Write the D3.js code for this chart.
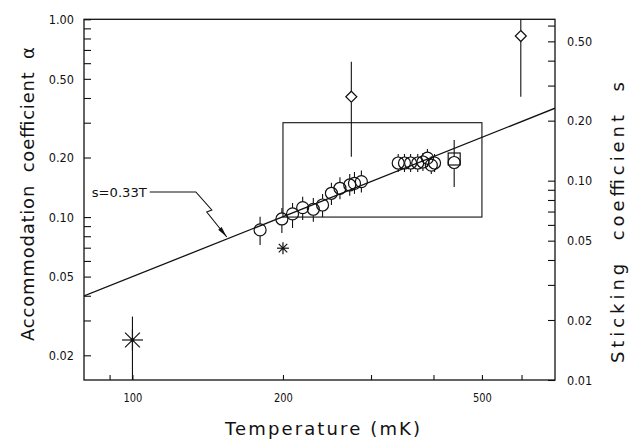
<!DOCTYPE html>
<html><head><meta charset="utf-8">
<script src="https://cdn.jsdelivr.net/npm/d3@7"></script>
<style>
body{margin:0;background:#fff}
svg{display:block}
text{font-family:"DejaVu Sans","Liberation Sans",sans-serif;fill:#111}
</style>
</head><body>
<svg id="chart" width="644" height="440"></svg>
<script>
// ---- data (Temperature in mK, accommodation coefficient alpha) ----
const circleT  = [180, 199, 209, 219, 230, 240, 250, 260, 272, 278, 287, 340, 350, 360, 372, 381, 389, 396, 402, 440];
const circleA  = [0.0861, 0.0978, 0.1037, 0.1116, 0.1095, 0.1151, 0.1319, 0.1398, 0.1453, 0.148, 0.151, 0.1877, 0.1877, 0.1877, 0.1877, 0.1899, 0.1987, 0.183, 0.1877, 0.1888];
const circleLo = [0.0723, 0.0831, 0.0881, 0.0967, 0.0948, 0.1001, 0.1151, 0.123, 0.128, 0.131, 0.133, 0.169, 0.169, 0.169, 0.169, 0.171, 0.179, 0.165, 0.169, 0.142];
const circleHi = [0.1005, 0.1111, 0.1178, 0.1268, 0.1249, 0.1309, 0.1493, 0.159, 0.165, 0.169, 0.172, 0.2085, 0.2085, 0.2085, 0.2085, 0.211, 0.221, 0.203, 0.2085, 0.2455];
const squareT  = [440];
const squareA  = [0.1966];
const diamondT  = [274, 598];
const diamondA  = [0.406, 0.823];
const diamondLo = [0.202, 0.406];
const diamondHi = [0.610, 1.0];
const starT  = [100, 200];
const starA  = [0.0239, 0.0696];
const starLo = [0.015, null];
const starHi = [0.0314, null];
const starBig = [true, false];
// fit line s = 0.33 T (T in K)
const fitCoef = 0.33;
const fitT = [80, 700];
// reference box
const boxT = [200, 500];
const boxA = [0.1, 0.3];
// annotation path (T, alpha)
const annoT = [108.3, 133.9, 144.1, 140.8, 154.4];
const annoA = [0.1339, 0.1339, 0.1086, 0.1061, 0.0793];
const annoLabel = "s=0.33T";
// ticks
const xTicks = [90, 100, 200, 300, 400, 500, 600];
const xLabels = [100, 200, 500];
const yLTicks = [0.02,0.03,0.04,0.05,0.06,0.07,0.08,0.09,0.1,0.2,0.3,0.4,0.5,0.6,0.7,0.8,0.9,1.0];
const yLLabels = [0.02, 0.05, 0.1, 0.2, 0.5, 1.0];
const yRTicks = [0.01,0.02,0.03,0.04,0.05,0.06,0.07,0.08,0.09,0.1,0.2,0.3,0.4,0.5,0.6];
const yRLabels = [0.01, 0.02, 0.05, 0.1, 0.2, 0.5];

// ---- layout ----
const L = 84, R = 555, T0 = 19.3, B = 380;
const svg = d3.select("#chart");
const x  = d3.scaleLog().domain([80, 700]).range([L, R]);
const yL = d3.scaleLog().domain([0.015, 1]).range([B, T0]);
const yR = d3.scaleLog().domain([0.01, 0.645]).range([B, T0]);
const ink = "#111";
const cell = 6.3;

// axes
const fmt2 = d => d3.format(".2f")(d);
const ax = svg.append("g").attr("transform", `translate(0,${B})`)
  .call(d3.axisBottom(x).tickValues(xTicks).tickSizeInner(-5).tickSizeOuter(0).tickPadding(13)
    .tickFormat(d => xLabels.includes(d) ? String(d) : ""));
const ayl = svg.append("g").attr("transform", `translate(${L},0)`)
  .call(d3.axisLeft(yL).tickValues(yLTicks).tickSizeInner(-7).tickSizeOuter(0).tickPadding(10)
    .tickFormat(d => yLLabels.some(v => Math.abs(v-d)<1e-9) ? fmt2(d) : ""));
const ayr = svg.append("g").attr("transform", `translate(${R},0)`)
  .call(d3.axisRight(yR).tickValues(yRTicks).tickSizeInner(-7).tickSizeOuter(0).tickPadding(12)
    .tickFormat(d => yRLabels.some(v => Math.abs(v-d)<1e-9) ? fmt2(d) : ""));
[ax, ayl, ayr].forEach(g => {
  g.select(".domain").remove();
  g.selectAll("line").attr("stroke", ink).attr("stroke-width", 1.1);
  g.selectAll("text").attr("font-size", 13).attr("fill", ink)
    .style("font-family", '"DejaVu Sans",sans-serif')
    .each(function() {
      const t = d3.select(this), s = t.text();
      if (s.length) t.attr("textLength", s.length * cell).attr("lengthAdjust", "spacingAndGlyphs");
    });
});

// frame
svg.append("rect").attr("x", L).attr("y", T0).attr("width", R-L).attr("height", B-T0)
  .attr("fill", "none").attr("stroke", ink).attr("stroke-width", 1.3);

// axis titles
svg.append("text").attr("x", 322.5).attr("y", 435).attr("text-anchor", "middle")
  .attr("font-size", 18).attr("textLength", 195)
  .text("Temperature (mK)");
svg.append("text").attr("transform", `translate(34,194) rotate(-90)`).attr("text-anchor", "middle")
  .attr("font-size", 18).attr("textLength", 294).attr("word-spacing", 6)
  .text("Accommodation coefficient α");
svg.append("text").attr("transform", `translate(624,222.5) rotate(-90)`).attr("text-anchor", "middle")
  .attr("font-size", 18).attr("textLength", 281).attr("word-spacing", 10)
  .text("Sticking coefficient s");

const plot = svg.append("g");
svg.append("clipPath").attr("id", "clip").append("rect")
  .attr("x", L).attr("y", T0).attr("width", R-L).attr("height", B-T0);

// box
plot.append("rect").attr("x", x(boxT[0])).attr("y", yL(boxA[1]))
  .attr("width", x(boxT[1]) - x(boxT[0])).attr("height", yL(boxA[0]) - yL(boxA[1]))
  .attr("fill", "none").attr("stroke", ink).attr("stroke-width", 1.1);

// fit line
plot.append("path").attr("clip-path", "url(#clip)")
  .attr("d", d3.line().x(d => x(d)).y(d => yR(fitCoef * d / 1000))(fitT))
  .attr("fill", "none").attr("stroke", ink).attr("stroke-width", 1.3);

// annotation
const annoPts = annoT.map((t, i) => [x(t), yL(annoA[i])]);
plot.append("path").attr("d", d3.line()(annoPts)).attr("fill", "none").attr("stroke", ink).attr("stroke-width", 1.1);
{
  const n = annoPts.length, p1 = annoPts[n-2], p2 = annoPts[n-1];
  const ang = Math.atan2(p2[1]-p1[1], p2[0]-p1[0]);
  const len = 11, w = 2.2;
  const bx = p2[0] - len*Math.cos(ang), by = p2[1] - len*Math.sin(ang);
  const nx = -Math.sin(ang)*w, ny = Math.cos(ang)*w;
  plot.append("path").attr("d", `M${p2[0]},${p2[1]}L${bx+nx},${by+ny}L${bx-nx},${by-ny}Z`).attr("fill", ink);
}
svg.append("text").attr("x", annoPts[0][0] - 3).attr("y", annoPts[0][1] + 5).attr("text-anchor", "end")
  .attr("font-size", 13).attr("textLength", 55).attr("lengthAdjust", "spacingAndGlyphs").text(annoLabel);

// error bar helper (skips marker interior)
function ebar(cx, yc, yHi, yLo, gap) {
  if (yHi != null && yHi < yc - gap)
    plot.append("line").attr("x1", cx).attr("x2", cx).attr("y1", Math.max(yHi, T0)).attr("y2", yc - gap).attr("stroke", ink).attr("stroke-width", 1.1);
  if (yLo != null && yLo > yc + gap)
    plot.append("line").attr("x1", cx).attr("x2", cx).attr("y1", yc + gap).attr("y2", Math.min(yLo, B)).attr("stroke", ink).attr("stroke-width", 1.1);
}

// circles
const rC = 6;
circleT.forEach((t, i) => {
  const cx = x(t), cy = yL(circleA[i]);
  ebar(cx, cy, yL(circleHi[i]), yL(circleLo[i]), rC);
});
// square
squareT.forEach((t, i) => {
  const cx = x(t), cy = yL(squareA[i]);
  plot.append("rect").attr("x", cx - 6).attr("y", cy - 6).attr("width", 12).attr("height", 12)
    .attr("fill", "none").attr("stroke", ink).attr("stroke-width", 1.2);
});
plot.selectAll("circle.pt").data(circleT).join("circle").attr("class", "pt")
  .attr("cx", d => x(d)).attr("cy", (d, i) => yL(circleA[i])).attr("r", rC)
  .attr("fill", "none").attr("stroke", ink).attr("stroke-width", 1.2);

// diamonds
diamondT.forEach((t, i) => {
  const cx = x(t), cy = yL(diamondA[i]), h = 5.5;
  ebar(cx, cy, yL(diamondHi[i]), yL(diamondLo[i]), h);
  plot.append("path").attr("d", `M${cx},${cy-h}L${cx+h},${cy}L${cx},${cy+h}L${cx-h},${cy}Z`)
    .attr("fill", "#fff").attr("stroke", ink).attr("stroke-width", 1.2);
});

// stars
starT.forEach((t, i) => {
  const cx = x(t), cy = yL(starA[i]);
  const a = starBig[i] ? 10.5 : 6;
  if (starHi[i] != null) ebar(cx, cy, yL(starHi[i]), yL(starLo[i]), 0);
  const g = plot.append("g").attr("stroke", ink).attr("stroke-width", 1.2);
  [0, 45, 90, 135].forEach(deg => {
    const r = deg * Math.PI / 180;
    g.append("line").attr("x1", cx - a*Math.cos(r)).attr("y1", cy - a*Math.sin(r))
      .attr("x2", cx + a*Math.cos(r)).attr("y2", cy + a*Math.sin(r));
  });
  plot.append("circle").attr("cx", cx).attr("cy", cy).attr("r", starBig[i] ? 2 : 1.3).attr("fill", ink);
});
</script>
</body></html>
